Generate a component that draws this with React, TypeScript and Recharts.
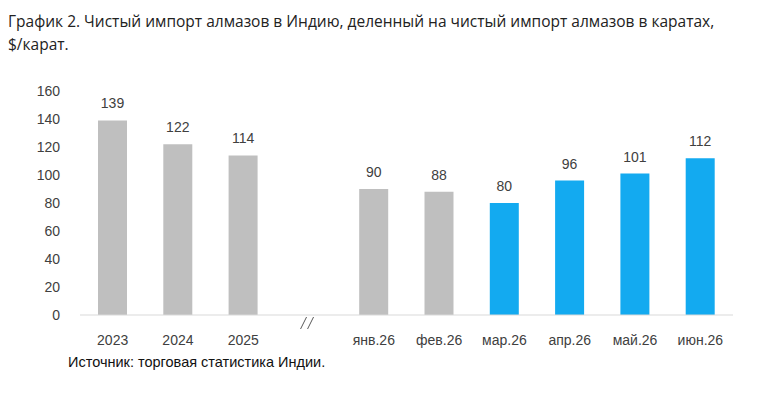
import { BarChart, Bar, XAxis, YAxis, Cell, LabelList } from 'recharts';

const categories = ['2023', '2024', '2025', '', 'янв.26', 'фев.26', 'мар.26', 'апр.26', 'май.26', 'июн.26'];
const values: (number | null)[] = [139, 122, 114, null, 90, 88, 80, 96, 101, 112];
const highlighted = [false, false, false, false, false, false, true, true, true, true];
const yTicks = [0, 20, 40, 60, 80, 100, 120, 140, 160];

const GRAY = '#bfbfbf';
const BLUE = '#13aaf0';
const FONT = '"Liberation Sans", Arial, sans-serif';

const data = categories.map((c, i) => ({ name: c, value: values[i], hl: highlighted[i] }));

function XTick(props: any) {
  const { x, y, payload } = props;
  if (payload.value === '') {
    return (
      <g>
        <line x1={x - 8} y1={y + 6} x2={x - 2} y2={y - 6} stroke="#595959" strokeWidth={1} />
        <line x1={x - 1} y1={y + 6} x2={x + 5} y2={y - 6} stroke="#595959" strokeWidth={1} />
      </g>
    );
  }
  return (
    <text x={x} y={y + 22} textAnchor="middle" fontSize={14} fill="#404040" fontFamily={FONT}>
      {payload.value}
    </text>
  );
}

export default function App() {
  return (
    <div style={{ position: 'absolute', left: 0, top: 0, width: 762, height: 400, background: '#fff' }}>
      <div
        style={{
          position: 'absolute',
          left: 8,
          top: 10,
          fontFamily: '"Open Sans", sans-serif',
          fontSize: 15.5,
          lineHeight: '23px',
          color: '#222',
        }}
      >
        График 2. Чистый импорт алмазов в Индию, деленный на чистый импорт алмазов в каратах,
        <br />
        $/карат.
      </div>
      <div style={{ position: 'absolute', left: 0, top: 0 }}>
        <BarChart width={762} height={350} data={data} margin={{ top: 91, right: 29, left: 0, bottom: 5 }} barSize={29}>
          <XAxis
            dataKey="name"
            interval={0}
            height={30}
            tick={<XTick />}
            tickLine={false}
            axisLine={{ stroke: '#d9d9d9' }}
          />
          <YAxis
            domain={[0, 160]}
            ticks={yTicks}
            width={80}
            axisLine={false}
            tickLine={false}
            tickMargin={14}
            tick={{ fontSize: 14, fill: '#404040', fontFamily: FONT }}
          />
          <Bar dataKey="value" isAnimationActive={false}>
            {data.map((d, i) => (
              <Cell key={i} fill={d.hl ? BLUE : GRAY} />
            ))}
            <LabelList dataKey="value" position="top" offset={12} style={{ fontSize: 14, fill: '#404040', fontFamily: FONT }} />
          </Bar>
        </BarChart>
      </div>
      <div
        style={{
          position: 'absolute',
          left: 68,
          top: 354,
          fontFamily: FONT,
          fontSize: 14.5,
          color: '#111',
        }}
      >
        Источник: торговая статистика Индии.
      </div>
    </div>
  );
}
